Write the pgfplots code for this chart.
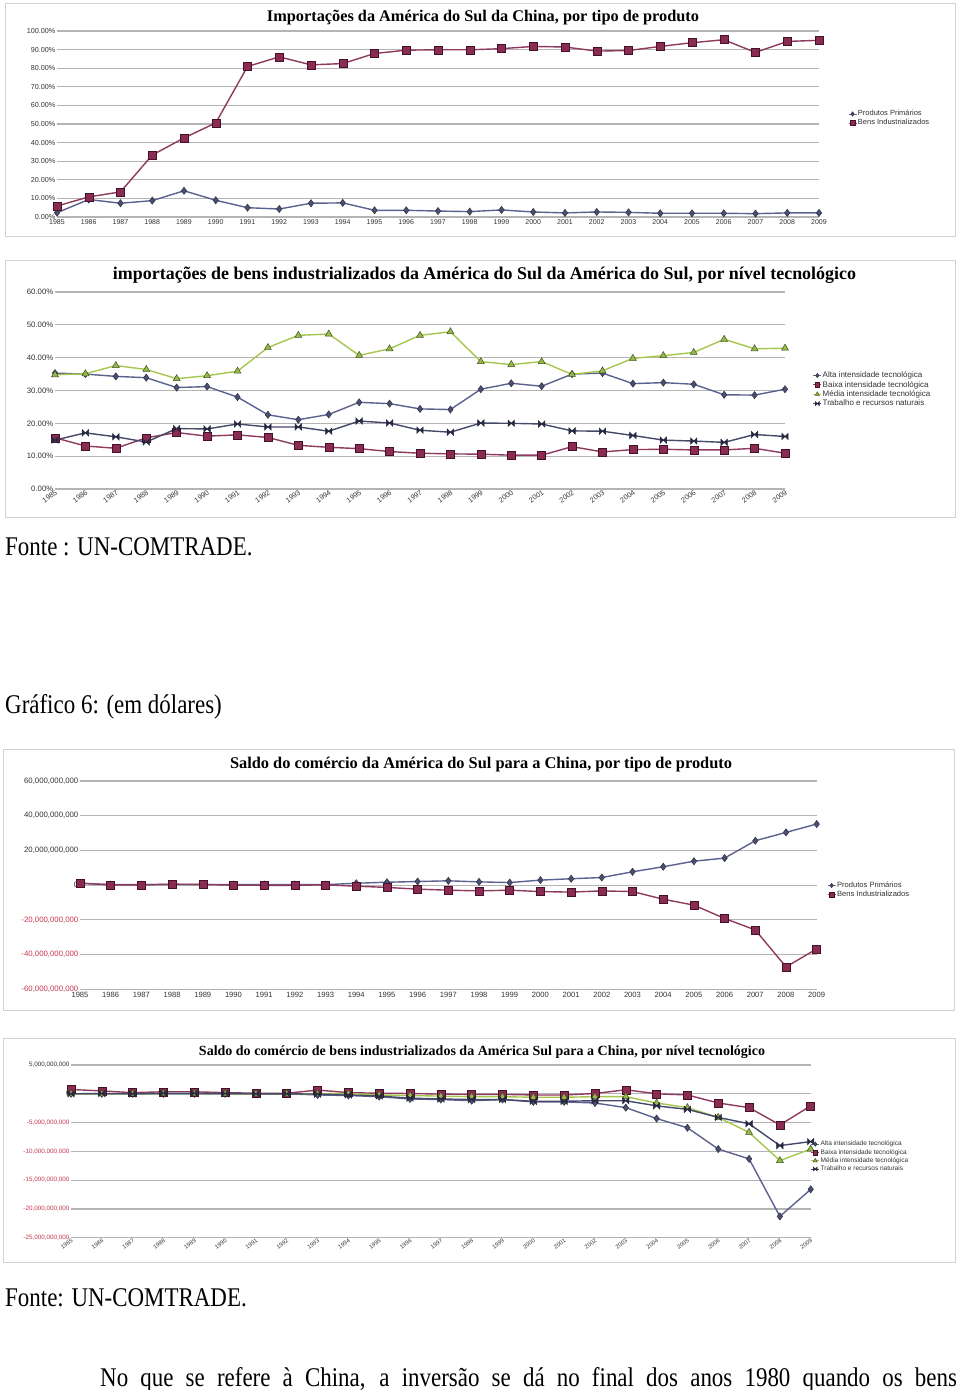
\documentclass[border=0pt]{standalone}
\usepackage{fontspec}
\setmainfont{Liberation Serif}
\newfontfamily\arial{Liberation Sans}
\usepackage{pgfplots}
\usepackage{pgfplotstable}
\pgfplotsset{compat=1.18}
\usepackage{graphicx}

\definecolor{primline}{HTML}{5C6290}
\definecolor{primmark}{HTML}{4C5070}
\definecolor{primdark}{HTML}{2C2F45}
\definecolor{bensline}{HTML}{8E3A5E}
\definecolor{bensmark}{HTML}{8A2B52}
\definecolor{bensdark}{HTML}{45102A}
\definecolor{medline}{HTML}{A6C74E}
\definecolor{medmark}{HTML}{96B94E}
\definecolor{meddark}{HTML}{3E5418}
\definecolor{trabline}{HTML}{45496A}
\definecolor{trabdark}{HTML}{262940}
\definecolor{gridgray}{HTML}{B4B4B4}
\definecolor{boxgray}{HTML}{D2D2D2}
\definecolor{ticktext}{HTML}{333333}
\definecolor{negred}{HTML}{C4384F}

\pgfdeclareplotmark{bowtie}{%
  \pgfpathmoveto{\pgfqpoint{-\pgfplotmarksize}{\pgfplotmarksize}}%
  \pgfpathlineto{\pgfqpoint{\pgfplotmarksize}{-\pgfplotmarksize}}%
  \pgfpathlineto{\pgfqpoint{\pgfplotmarksize}{\pgfplotmarksize}}%
  \pgfpathlineto{\pgfqpoint{-\pgfplotmarksize}{-\pgfplotmarksize}}%
  \pgfpathclose
  \pgfusepathqfillstroke}

\pgfplotsset{
  primst/.style={color=primline, line width=1.4pt, mark=diamond*, mark size=3.6pt,
    mark options={fill=primmark, draw=primdark, line width=0.5pt}},
  bensst/.style={color=bensline, line width=1.4pt, mark=square*, mark size=4pt,
    mark options={fill=bensmark, draw=bensdark, line width=0.5pt}},
  medst/.style={color=medline, line width=1.4pt, mark=triangle*, mark size=4pt,
    mark options={fill=medmark, draw=meddark, line width=0.5pt}},
  trabst/.style={color=trabline, line width=1.4pt, mark=bowtie, mark size=3.2pt,
    mark options={fill=trabdark, draw=trabdark, line width=0.5pt}},
  base/.style={scale only axis, axis line style={draw=none}, major tick length=0pt,
    ymajorgrids, major grid style={draw=gridgray, line width=1.2pt},
    xmin=1985, xmax=2009, xtick={1985,...,2009}, clip=false,
    ticklabel style={text=ticktext},
    legend style={draw=none, fill=none, inner sep=0pt, row sep=0pt,
      nodes={inner sep=1pt, text=ticktext}},
    legend cell align=left,
    legend image code/.code={\draw[mark repeat=2, mark phase=2, ##1, line width=0.8pt,
      every mark/.append style={scale=0.6}]
      plot coordinates {(0pt,0pt) (4pt,0pt) (8pt,0pt)};},
    /pgf/number format/1000 sep={},
    /pgf/number format/assume math mode=true},
}

\pgfplotstableread{
year prim bens
1985 2.3 5.9
1986 9.4 10.8
1987 7.4 13.5
1988 8.8 33.3
1989 14.1 42.5
1990 9.0 50.6
1991 5.0 80.9
1992 4.3 86.1
1993 7.4 81.8
1994 7.6 82.5
1995 3.6 87.9
1996 3.6 89.7
1997 3.2 89.9
1998 2.9 89.9
1999 3.8 90.5
2000 2.7 91.7
2001 2.2 91.4
2002 2.7 89.2
2003 2.5 89.5
2004 2.0 91.7
2005 2.0 93.7
2006 2.0 95.3
2007 1.8 88.5
2008 2.2 94.4
2009 2.2 95.0
}\tabA

\pgfplotstableread{
year alta baixa media trab
1985 35.3 15.6 34.8 14.9
1986 35.0 13.1 35.1 17.1
1987 34.3 12.4 37.6 15.9
1988 33.9 15.6 36.4 14.3
1989 30.9 17.2 33.6 18.4
1990 31.2 16.1 34.5 18.3
1991 28.0 16.5 35.9 19.8
1992 22.6 15.7 43.1 18.9
1993 21.1 13.3 46.8 18.9
1994 22.7 12.7 47.2 17.6
1995 26.4 12.3 40.7 20.7
1996 26.0 11.4 42.7 20.1
1997 24.4 10.9 46.8 17.9
1998 24.2 10.7 47.9 17.3
1999 30.4 10.6 38.8 20.1
2000 32.2 10.3 37.9 20.0
2001 31.3 10.3 38.8 19.8
2002 35.0 12.9 34.9 17.7
2003 35.3 11.3 36.0 17.6
2004 32.1 12.0 39.8 16.3
2005 32.4 12.1 40.6 14.9
2006 31.9 11.9 41.6 14.6
2007 28.7 11.9 45.6 14.2
2008 28.6 12.4 42.7 16.6
2009 30.4 10.9 42.9 16.0
}\tabB

\pgfplotstableread{
year prim bens
1985 1.0 1.2
1986 0.3 0.2
1987 0.3 0.2
1988 0.4 0.6
1989 0.4 0.4
1990 0.3 0.0
1991 0.4 -0.1
1992 0.4 -0.1
1993 0.3 0.2
1994 1.1 -0.6
1995 1.7 -1.3
1996 2.1 -2.3
1997 2.5 -2.9
1998 1.9 -3.3
1999 1.5 -2.9
2000 2.9 -3.7
2001 3.7 -4.0
2002 4.4 -3.3
2003 7.7 -3.7
2004 10.6 -8.1
2005 13.8 -11.5
2006 15.6 -19.2
2007 25.6 -25.8
2008 30.4 -47.1
2009 35.2 -36.7
}\tabC

\pgfplotstableread{
year alta baixa media trab
1985 0.0 0.75 0.0 0.0
1986 0.0 0.5 0.0 0.05
1987 0.0 0.2 0.0 0.0
1988 0.0 0.35 0.05 0.1
1989 0.0 0.35 0.05 0.1
1990 0.0 0.2 0.0 0.05
1991 0.0 0.1 0.0 0.0
1992 0.0 0.1 0.0 0.0
1993 -0.2 0.65 0.0 -0.05
1994 -0.3 0.2 0.05 -0.2
1995 -0.5 0.1 -0.2 -0.4
1996 -0.9 0.05 -0.3 -0.75
1997 -1.0 -0.05 -0.4 -0.9
1998 -1.2 -0.1 -0.5 -1.0
1999 -1.0 -0.1 -0.5 -1.0
2000 -1.4 -0.2 -0.6 -1.3
2001 -1.4 -0.2 -0.6 -1.3
2002 -1.6 0.05 -0.5 -1.2
2003 -2.4 0.7 -0.5 -1.2
2004 -4.3 0.0 -1.6 -2.1
2005 -5.9 -0.2 -2.4 -2.7
2006 -9.6 -1.6 -4.1 -4.1
2007 -11.3 -2.4 -6.7 -5.2
2008 -21.3 -5.4 -11.6 -9.0
2009 -16.6 -2.1 -9.6 -8.3
}\tabD

\newcommand\fs[1]{\fontsize{#1}{#1}\selectfont}

\begin{document}
\begin{tikzpicture}
\useasboundingbox[fill=white] (0pt,0pt) rectangle (960pt,-1390pt);

% ---------------- chart boxes
\draw[boxgray, line width=1pt] (5pt,-3pt) rectangle (955pt,-236pt);
\draw[boxgray, line width=1pt] (5pt,-260pt) rectangle (955pt,-517pt);
\draw[boxgray, line width=1pt] (3pt,-749pt) rectangle (954pt,-1010pt);
\draw[boxgray, line width=1pt] (3pt,-1038pt) rectangle (955pt,-1262pt);

% ---------------- titles
\node[anchor=base, inner sep=0pt] at (483pt,-21pt)
  {\resizebox{432pt}{!}{\bfseries Importações da América do Sul da China, por tipo de produto}};
\node[anchor=base, inner sep=0pt] at (484.5pt,-279pt)
  {\resizebox{743pt}{!}{\bfseries importações de bens industrializados da América do Sul da América do Sul, por nível tecnológico}};
\node[anchor=base, inner sep=0pt] at (481pt,-768pt)
  {\resizebox{502pt}{!}{\bfseries Saldo do comércio da América do Sul para a China, por tipo de produto}};
\node[anchor=base, inner sep=0pt] at (482pt,-1055pt)
  {\resizebox{566pt}{!}{\bfseries Saldo do comércio de bens industrializados da América Sul para a China, por nível tecnológico}};

% ---------------- chart 1
\begin{axis}[base, at={(57pt,-217pt)}, anchor=south west,
  width=762pt, height=186pt, ymin=0, ymax=100,
  ytick={0,10,...,100},
  yticklabels={0.00\%,10.00\%,20.00\%,30.00\%,40.00\%,50.00\%,60.00\%,70.00\%,80.00\%,90.00\%,100.00\%},
  yticklabel style={font=\arial\fs{7.2}, inner sep=1.5pt},
  xticklabel style={font=\arial\fs{7}, inner sep=2.5pt},
  legend style={at={(1.038,0.53)}, anchor=west, font=\arial\fs{7.5}},
]
\addplot[primst] table[x=year, y=prim] {\tabA};
\addplot[bensst] table[x=year, y=bens] {\tabA};
\legend{Produtos Primários, Bens Industrializados}
\end{axis}

% ---------------- chart 2
\begin{axis}[base, at={(55pt,-489pt)}, anchor=south west,
  width=730pt, height=197pt, ymin=0, ymax=60,
  ytick={0,10,...,60},
  yticklabels={0.00\%,10.00\%,20.00\%,30.00\%,40.00\%,50.00\%,60.00\%},
  yticklabel style={font=\arial\fs{7.8}, inner sep=1.5pt},
  xticklabel style={font=\arial\fs{7.2}, rotate=35, anchor=north east, inner sep=0.5pt},
  legend style={at={(1.038,0.505)}, anchor=west, font=\arial\fs{8}},
]
\addplot[primst] table[x=year, y=alta] {\tabB};
\addplot[bensst] table[x=year, y=baixa] {\tabB};
\addplot[medst] table[x=year, y=media] {\tabB};
\addplot[trabst] table[x=year, y=trab] {\tabB};
\legend{Alta intensidade tecnológica, Baixa intensidade tecnológica, Média intensidade tecnológica, Trabalho e recursos naturais}
\end{axis}

% ---------------- chart 3
\begin{axis}[base, at={(80pt,-989.3pt)}, anchor=south west,
  width=736.7pt, height=208.3pt, ymin=-60, ymax=60,
  ytick={-60,-40,...,60},
  yticklabels={{\color{negred}-60,000,000,000},{\color{negred}-40,000,000,000},{\color{negred}-20,000,000,000},0,{20,000,000,000},{40,000,000,000},{60,000,000,000}},
  yticklabel style={font=\arial\fs{7.8}, inner sep=1.5pt},
  xticklabel style={font=\arial\fs{7.6}, inner sep=3pt},
  legend style={at={(1.014,0.477)}, anchor=west, font=\arial\fs{7.6}},
]
\addplot[primst] table[x=year, y=prim] {\tabC};
\addplot[bensst] table[x=year, y=bens] {\tabC};
\legend{Produtos Primários, Bens Industrializados}
\end{axis}

% ---------------- chart 4
\begin{axis}[base, at={(71pt,-1237.7pt)}, anchor=south west,
  width=739.7pt, height=172.7pt, ymin=-25, ymax=5,
  ytick={-25,-20,...,5},
  yticklabels={{\color{negred}-25,000,000,000},{\color{negred}-20,000,000,000},{\color{negred}-15,000,000,000},{\color{negred}-10,000,000,000},{\color{negred}-5,000,000,000},0,{5,000,000,000}},
  yticklabel style={font=\arial\fs{6.3}, inner sep=1.5pt},
  xticklabel style={font=\arial\fs{5.8}, rotate=35, anchor=north east, inner sep=0.5pt},
  legend style={at={(1.0,0.47)}, anchor=west, font=\arial\fs{6.5}},
]
\addplot[primst] table[x=year, y=alta] {\tabD};
\addplot[bensst] table[x=year, y=baixa] {\tabD};
\addplot[medst] table[x=year, y=media] {\tabD};
\addplot[trabst] table[x=year, y=trab] {\tabD};
\legend{Alta intensidade tecnológica, Baixa intensidade tecnológica, Média intensidade tecnológica, Trabalho e recursos naturais}
\end{axis}

% ---------------- body text
\node[anchor=base west, inner sep=0pt] at (5pt,-555pt)
  {\scalebox{0.85}[1]{\fs{27}Fonte : UN-COMTRADE.}};
\node[anchor=base west, inner sep=0pt] at (5pt,-713pt)
  {\scalebox{0.85}[1]{\fs{27}Gráfico 6: (em dólares)}};
\node[anchor=base west, inner sep=0pt] at (5pt,-1306pt)
  {\scalebox{0.85}[1]{\fs{27}Fonte: UN-COMTRADE.}};
\node[anchor=base west, inner sep=0pt] at (100pt,-1386pt)
  {\scalebox{0.85}[1]{\parbox[t]{1008pt}{\fs{27}\parfillskip=0pt\relax No que se refere à China, a inversão se dá no final dos anos 1980 quando os bens}}};
\end{tikzpicture}
\end{document}
